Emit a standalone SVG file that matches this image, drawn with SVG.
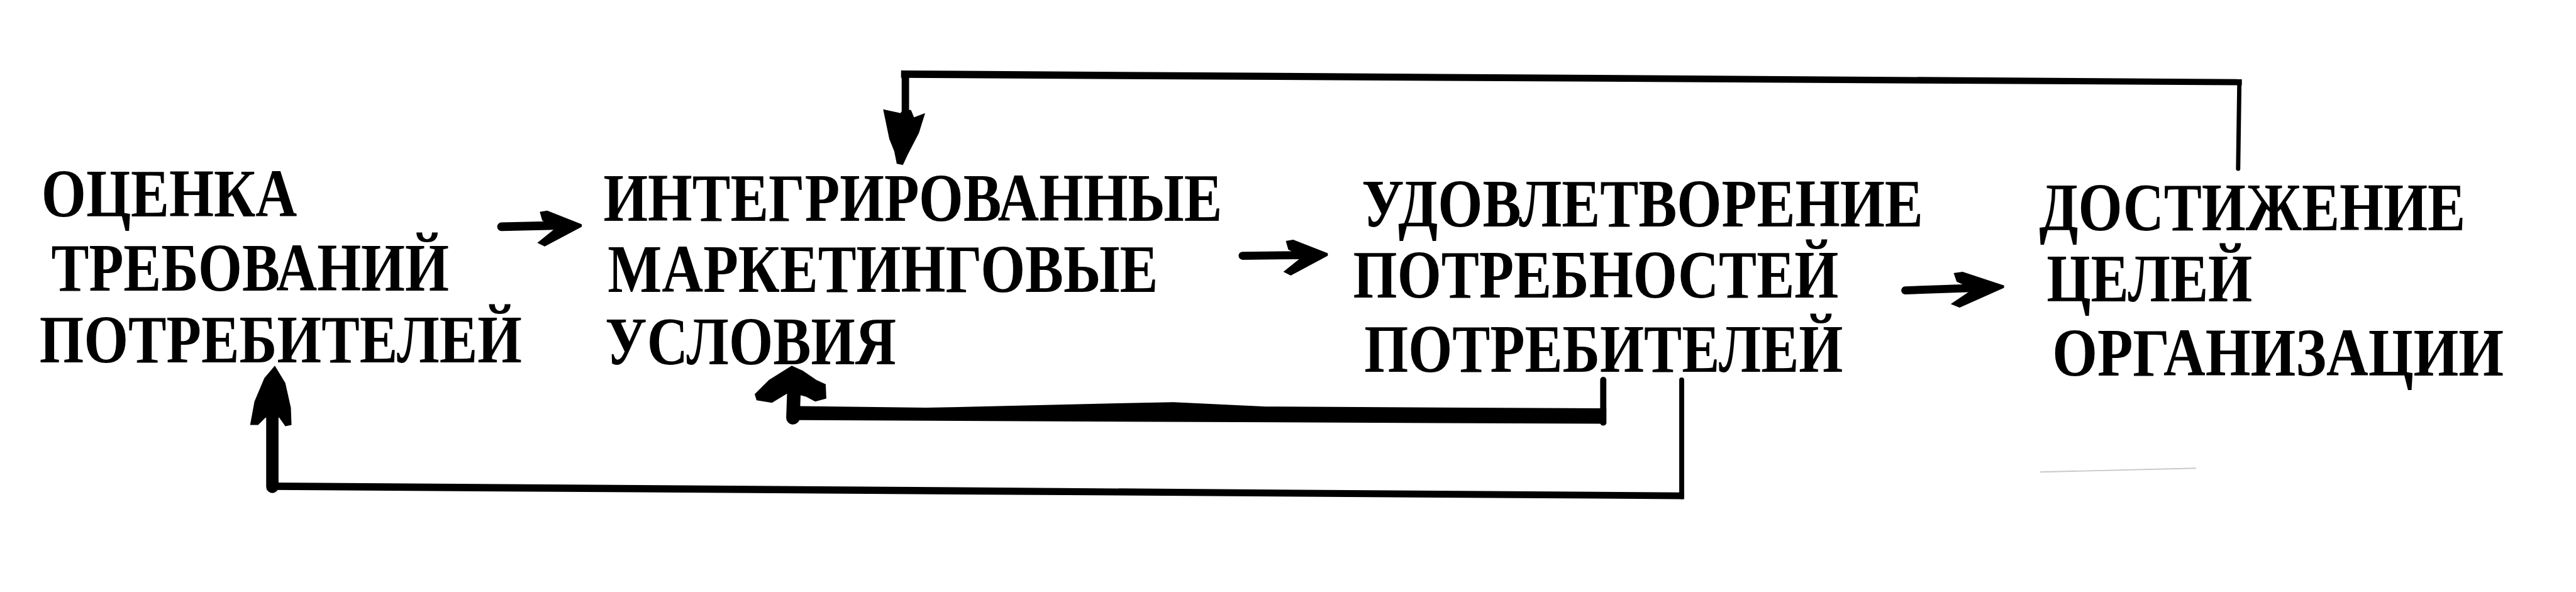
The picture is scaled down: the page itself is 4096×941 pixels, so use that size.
<svg xmlns="http://www.w3.org/2000/svg" xmlns:xlink="http://www.w3.org/1999/xlink" width="4096" height="941" viewBox="0 0 4096 941">
<style>
.t{font-family:"Liberation Serif","Times New Roman",serif;font-weight:bold;font-size:110px;fill:#000}
.ln{fill:none;stroke:#000;stroke-linecap:round;stroke-linejoin:round}
.fl{fill:#000;stroke:none}
</style>
<defs>
<path id="headR" d="M-68,-22 L-56,-24 L0,-2 L0,2 L-60,34 L-72,28 L-42,4 L-64,-8 Z"/>
</defs>
<rect width="4096" height="941" fill="#fff"/>
<g transform="scale(0.982)">
<g id="node-ocenka">
<text class="t" x="67" y="350" textLength="414" lengthAdjust="spacingAndGlyphs">ОЦЕНКА</text>
<text class="t" x="83" y="470" textLength="644" lengthAdjust="spacingAndGlyphs">ТРЕБОВАНИЙ</text>
<text class="t" x="64" y="587" textLength="781" lengthAdjust="spacingAndGlyphs">ПОТРЕБИТЕЛЕЙ</text>
</g>
<g id="node-integr">
<text class="t" x="977" y="357" textLength="1002" lengthAdjust="spacingAndGlyphs">ИНТЕГРИРОВАННЫЕ</text>
<text class="t" x="984" y="472" textLength="891" lengthAdjust="spacingAndGlyphs">МАРКЕТИНГОВЫЕ</text>
<text class="t" x="980" y="590" textLength="471" lengthAdjust="spacingAndGlyphs">УСЛОВИЯ</text>
</g>
<g id="node-udovl">
<text class="t" x="2205" y="367" textLength="909" lengthAdjust="spacingAndGlyphs">УДОВЛЕТВОРЕНИЕ</text>
<text class="t" x="2191" y="482" textLength="786" lengthAdjust="spacingAndGlyphs">ПОТРЕБНОСТЕЙ</text>
<text class="t" x="2209" y="602" textLength="775" lengthAdjust="spacingAndGlyphs">ПОТРЕБИТЕЛЕЙ</text>
</g>
<g id="node-dostizh">
<text class="t" x="3302" y="373" textLength="690" lengthAdjust="spacingAndGlyphs">ДОСТИЖЕНИЕ</text>
<text class="t" x="3314" y="488" textLength="333" lengthAdjust="spacingAndGlyphs">ЦЕЛЕЙ</text>
<text class="t" x="3323" y="608" textLength="731" lengthAdjust="spacingAndGlyphs">ОРГАНИЗАЦИИ</text>
</g>
<g id="connectors">
<!-- forward arrows -->
<path class="ln" d="M812 367 L900 365" stroke-width="14"/>
<use xlink:href="#headR" class="fl" transform="translate(942,365)"/>
<path class="ln" d="M2012 414 L2110 413" stroke-width="13"/>
<use xlink:href="#headR" class="fl" transform="translate(2150,412)"/>
<path class="ln" d="M3085 470 L3200 466" stroke-width="13"/>
<use xlink:href="#headR" class="fl" transform="translate(3245,464) scale(1.2,1)"/>
<!-- top feedback -->
<path class="ln" d="M3624 273 L3626 133" stroke-width="7"/>
<path class="fl" d="M1459 114 L3630 128 L3630 138 L1459 126 Z"/>
<path class="ln" d="M1466 120 L1466 185" stroke-width="12"/>
<path class="fl" d="M1430 177 L1458 183 L1462 178 L1475 178 L1480 190 L1498 183 L1488 215 L1470 250 L1462 267 L1452 265 L1448 245 L1440 225 Z"/>
<!-- inner bottom feedback -->
<path class="ln" d="M2596 615 L2596 684" stroke-width="10"/>
<path class="fl" d="M1274 657 L1500 660 L1800 653 L1900 651 L2050 658 L2601 661 L2601 686 L1274 680 Z"/>
<path class="ln" d="M1286 620 L1284 676" stroke-width="22"/>
<path class="fl" d="M1282 592 L1300 600 L1322 615 L1337 622 L1338 645 L1320 650 L1305 642 L1278 635 L1250 652 L1225 648 L1222 638 L1245 615 Z"/>
<!-- outer bottom feedback -->
<path class="ln" d="M2723 615 L2723 804" stroke-width="8"/>
<path class="fl" d="M437 781 L2727 797 L2727 808 L437 793 Z"/>
<path class="ln" d="M441 670 L441 788" stroke-width="20"/>
<path class="fl" d="M445 592 L462 620 L471 660 L472 688 L462 690 L452 676 L430 676 L418 688 L405 688 L412 650 L428 612 Z"/>
</g>
<path d="M3303 764 L3556 758" fill="none" stroke="#c8c8c8" stroke-width="2"/>
</g>
</svg>
